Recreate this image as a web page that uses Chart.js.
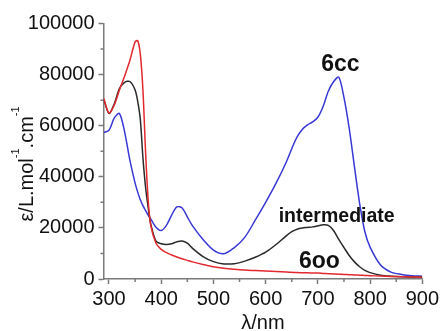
<!DOCTYPE html>
<html><head><meta charset="utf-8">
<script src="https://cdn.jsdelivr.net/npm/chart.js@4/dist/chart.umd.min.js"></script>
<style>html,body{margin:0;padding:0;background:#fff;overflow:hidden}canvas{display:block}</style>
</head><body>
<canvas id="c" width="442" height="331"></canvas>
<script>
// ---- data ----
const wavelengths = [290,300,310,320,330,340,350,355,360,365,370,375,380,390,400,410,420,430,440,450,460,480,500,520,540,560,580,600,620,640,650,660,670,680,690,700,710,720,730,740,750,760,770,780,790,800,820,840,860,880,900];
const eps6oo = [70600,65000,68000,74000,79500,85500,92800,93300,88000,74000,50000,31000,21000,14000,11600,10300,9400,8600,7900,7300,6700,5700,4800,4200,3800,3500,3300,3100,2900,2700,2600,2500,2450,2400,2350,2300,2200,2100,2000,1900,1800,1700,1600,1500,1400,1300,1150,1000,900,800,700];
const epsIntermediate = [70400,64800,68500,74500,77000,77300,74000,69500,62500,47500,36000,28000,21500,14800,13800,13500,13800,14600,14900,14000,12000,8800,6800,5900,6000,7000,8500,10500,13500,17000,18500,19500,20000,20200,20400,20800,21200,21000,19000,15500,12300,9200,6700,4800,3400,2500,1500,1100,900,800,700];
const eps6cc = [57300,58200,63000,64800,57500,46500,37500,34000,31000,28700,26800,25000,23500,20300,19000,21000,25000,28200,27800,24300,20800,15500,11300,9900,12300,16300,23000,30000,37500,46000,51000,55500,58500,60300,61500,63300,67500,73500,77200,79000,71000,59000,44000,29500,18500,12500,5500,2700,1800,1300,1100];
const xTickValues = [300,400,500,600,700,800,900];
const xMinorValues = [350,450,550,650,750,850];
const yTickValues = [0,20000,40000,60000,80000,100000];
const yMinorValues = [10000,30000,50000,70000,90000];
const seriesNames = ['6oo','intermediate','6cc'];
const labelAnchorX = [703, 736, 743];
const labelAnchorY = [6700, 24300, 83800];

// ---- styles ----
const FONT = '"Liberation Sans", Arial, Helvetica, sans-serif';
const axisColor = '#7a7a7a';
const textColor = '#111';
const lineColors = ['#e3282e', '#2a2a2a', '#3838d6'];
const labelSizes = [23, 19.5, 23];

const pts = arr => wavelengths.map((w, i) => ({x: w, y: arr[i]}));

const minorTicks = {
  id: 'minorTicks',
  afterDraw(chart) {
    const {ctx, chartArea: a, scales: {x, y}} = chart;
    ctx.save();
    ctx.strokeStyle = axisColor; ctx.lineWidth = 1.5;
    ctx.beginPath();
    xMinorValues.forEach(v => { const p = x.getPixelForValue(v); ctx.moveTo(p, a.bottom); ctx.lineTo(p, a.bottom + 3); });
    yMinorValues.forEach(v => { const p = y.getPixelForValue(v); ctx.moveTo(a.left, p); ctx.lineTo(a.left - 3, p); });
    ctx.stroke();
    ctx.restore();
  }
};

const seriesLabels = {
  id: 'seriesLabels',
  afterDatasetsDraw(chart) {
    const {ctx, scales: {x, y}} = chart;
    ctx.save();
    ctx.fillStyle = textColor; ctx.textAlign = 'center'; ctx.textBaseline = 'middle';
    seriesNames.forEach((t, i) => {
      ctx.font = 'bold ' + labelSizes[i] + 'px ' + FONT;
      ctx.fillText(t, x.getPixelForValue(labelAnchorX[i]), y.getPixelForValue(labelAnchorY[i]));
    });
    ctx.restore();
  }
};

const yTitle = {
  id: 'yTitle',
  afterDraw(chart) {
    const ctx = chart.ctx;
    const parts = [['ε/L.mol', false], ['-1', true], ['.cm', false], ['-1', true]];
    const mainFont = '20px ' + FONT, supFont = '11px ' + FONT;
    ctx.save();
    ctx.translate(33, 164);
    ctx.rotate(-Math.PI / 2);
    let total = 0;
    parts.forEach(([t, s]) => { ctx.font = s ? supFont : mainFont; total += ctx.measureText(t).width; });
    let xx = -total / 2;
    ctx.fillStyle = textColor; ctx.textBaseline = 'alphabetic'; ctx.textAlign = 'left';
    parts.forEach(([t, s]) => {
      ctx.font = s ? supFont : mainFont;
      ctx.fillText(t, xx, s ? -14 : 0);
      xx += ctx.measureText(t).width;
    });
    ctx.restore();
  }
};

new Chart(document.getElementById('c'), {
  type: 'line',
  data: {
    datasets: [
      {label: seriesNames[0], data: pts(eps6oo), borderColor: lineColors[0]},
      {label: seriesNames[1], data: pts(epsIntermediate), borderColor: lineColors[1]},
      {label: seriesNames[2], data: pts(eps6cc), borderColor: lineColors[2]}
    ]
  },
  options: {
    responsive: false,
    animation: false,
    layout: {padding: {top: 23.5, right: 19, left: 0, bottom: 0}},
    elements: {
      line: {borderWidth: 1.5, fill: false, tension: 0.3},
      point: {radius: 0}
    },
    plugins: {legend: {display: false}, tooltip: {enabled: false}},
    scales: {
      x: {
        type: 'linear', min: 289.5, max: 900,
        afterBuildTicks: s => { s.ticks = xTickValues.map(v => ({value: v})); },
        afterFit: s => { s.height = 52; },
        grid: {display: true, drawOnChartArea: false, drawTicks: true, tickLength: 5, tickColor: axisColor, tickWidth: 1.5},
        border: {display: true, color: axisColor, width: 1.5},
        ticks: {callback: v => String(v), color: textColor, font: {family: FONT, size: 20}, padding: 3, maxRotation: 0, autoSkip: false},
        title: {display: true, text: 'λ/nm', color: textColor, font: {family: FONT, size: 20, lineHeight: 0.8}, padding: {top: 0, bottom: 0}}
      },
      y: {
        type: 'linear', min: 0, max: 100000,
        afterBuildTicks: s => { s.ticks = yTickValues.map(v => ({value: v})); },
        afterFit: s => { s.width = 103.5; },
        grid: {display: true, drawOnChartArea: false, drawTicks: true, tickLength: 5, tickColor: axisColor, tickWidth: 1.5},
        border: {display: true, color: axisColor, width: 1.5},
        ticks: {callback: v => String(v), color: textColor, font: {family: FONT, size: 20}, padding: 4, autoSkip: false}
      }
    }
  },
  plugins: [minorTicks, seriesLabels, yTitle]
});
</script>
</body></html>
